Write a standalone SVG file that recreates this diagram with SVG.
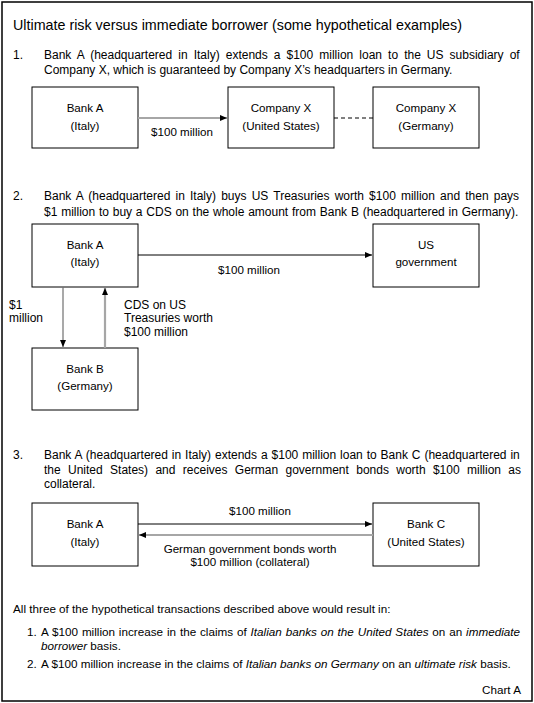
<svg xmlns="http://www.w3.org/2000/svg" width="534" height="703" viewBox="0 0 534 703">
<style>
text{font-family:"Liberation Sans",Arial,sans-serif;font-size:12px;fill:#000}
.title{font-size:14.3px}
.c{text-anchor:middle;font-size:11.6px}
.s{font-size:11.7px}
.box{fill:#fff;stroke:#000;stroke-width:1}
.blk{stroke:#000;stroke-width:1;fill:none}
.gry{stroke:#a6a6a6;stroke-width:2.2;fill:none}
.mid{stroke:#707070;stroke-width:1.2;fill:none}
.i{font-style:italic}
</style>
<defs>
<marker id="ah" markerUnits="userSpaceOnUse" markerWidth="8" markerHeight="8" refX="7" refY="4" orient="auto"><path d="M0,1 L7,4 L0,7 Z" fill="#000"/></marker>
</defs>
<rect x="2" y="2" width="530" height="699" fill="#fff" stroke="#000" stroke-width="1.5"/>
<text class="title" x="13" y="30">Ultimate risk versus immediate borrower (some hypothetical examples)</text>

<g id="para1">
<text x="13" y="59">1.</text>
<text x="44" y="59" word-spacing="2.72">Bank A (headquartered in Italy) extends a $100 million loan to the US subsidiary of</text>
<text x="44" y="74">Company X, which is guaranteed by Company X’s headquarters in Germany.</text>
</g>

<g id="n1a"><rect class="box" x="32" y="87" width="106" height="61"/><text class="c" x="85" y="112">Bank A</text><text class="c" x="85" y="130">(Italy)</text></g>
<g id="n1b"><rect class="box" x="228" y="87" width="106" height="61"/><text class="c" x="281" y="112">Company X</text><text class="c" x="281" y="130">(United States)</text></g>
<g id="n1c"><rect class="box" x="373" y="87" width="106" height="61"/><text class="c" x="426" y="112">Company X</text><text class="c" x="426" y="130">(Germany)</text></g>

<g id="para2">
<text x="13" y="200">2.</text>
<text x="44" y="200" word-spacing="1.81">Bank A (headquartered in Italy) buys US Treasuries worth $100 million and then pays</text>
<text x="44" y="216" word-spacing="0.45">$1 million to buy a CDS on the whole amount from Bank B (headquartered in Germany).</text>
</g>

<g id="n2a"><rect class="box" x="32" y="224" width="106" height="63"/><text class="c" x="85" y="249">Bank A</text><text class="c" x="85" y="266">(Italy)</text></g>
<g id="n2b"><rect class="box" x="373" y="224" width="106" height="63"/><text class="c" x="426" y="249">US</text><text class="c" x="426" y="266">government</text></g>
<g id="n2c"><rect class="box" x="32" y="348" width="106" height="62"/><text class="c" x="85" y="373">Bank B</text><text class="c" x="85" y="390">(Germany)</text></g>

<g id="para3">
<text x="13" y="459">3.</text>
<text x="44" y="459" word-spacing="0.58">Bank A (headquartered in Italy) extends a $100 million loan to Bank C (headquartered in</text>
<text x="44" y="474" word-spacing="4.01">the United States) and receives German government bonds worth $100 million as</text>
<text x="44" y="488">collateral.</text>
</g>

<g id="n3a"><rect class="box" x="32" y="503" width="106" height="63"/><text class="c" x="85" y="528">Bank A</text><text class="c" x="85" y="546">(Italy)</text></g>
<g id="n3b"><rect class="box" x="373" y="503" width="106" height="63"/><text class="c" x="426" y="528">Bank C</text><text class="c" x="426" y="546">(United States)</text></g>

<g id="connectors">
<line class="gry" x1="138" y1="118" x2="227" y2="118" marker-end="url(#ah)"/>
<line class="blk" x1="334" y1="118" x2="373" y2="118" stroke-dasharray="4,3"/>
<line class="blk" x1="138" y1="255" x2="372" y2="255" marker-end="url(#ah)"/>
<line class="mid" x1="63" y1="287" x2="63" y2="347" marker-end="url(#ah)"/>
<line class="gry" x1="105" y1="348" x2="105" y2="288" marker-end="url(#ah)"/>
<line class="blk" x1="138" y1="524" x2="372" y2="524" marker-end="url(#ah)"/>
<line class="gry" x1="373" y1="535" x2="139" y2="535" marker-end="url(#ah)"/>
<text class="c" x="182" y="136">$100 million</text>
<text class="c" x="249" y="274">$100 million</text>
<text x="9" y="309">$1</text>
<text x="9" y="322">million</text>
<text x="124" y="309">CDS on US</text>
<text x="124" y="322">Treasuries worth</text>
<text x="124" y="336">$100 million</text>
<text class="c" x="260" y="515">$100 million</text>
<text class="c" x="250" y="553">German government bonds worth</text>
<text class="c" x="250" y="566">$100 million (collateral)</text>
</g>

<g id="summary">
<text class="s" x="13" y="613">All three of the hypothetical transactions described above would result in:</text>
<text class="s" x="27" y="636">1.</text>
<text class="s" x="41" y="636" word-spacing="0.62">A $100 million increase in the claims of <tspan class="i">Italian banks on the United States</tspan> on an <tspan class="i">immediate</tspan></text>
<text class="s" x="41" y="650"><tspan class="i">borrower</tspan> basis.</text>
<text class="s" x="27" y="668">2.</text>
<text class="s" x="41" y="668">A $100 million increase in the claims of <tspan class="i">Italian banks on Germany</tspan> on an <tspan class="i">ultimate risk</tspan> basis.</text>
<text class="s" x="521" y="694" text-anchor="end">Chart A</text>
</g>
</svg>
